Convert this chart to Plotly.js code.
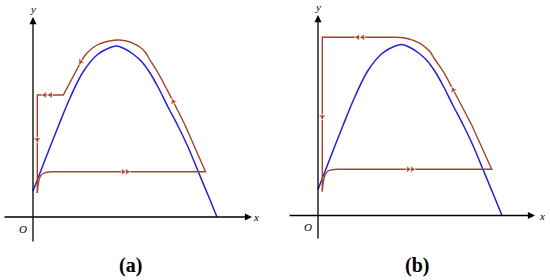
<!DOCTYPE html>
<html>
<head>
<meta charset="utf-8">
<script src="https://cdn.plot.ly/plotly-3.0.1.min.js"></script>
<style>
  html, body { margin: 0; padding: 0; background: #fff; }
  #plot { width: 550px; height: 280px; }
</style>
</head>
<body>
<div id="plot"></div>
<script>
// Nullcline (blue), same curve in both panels
const nullX = [0, 12, 25, 37, 50, 64, 76, 84, 92, 100, 109, 117, 125, 135, 145, 155, 165, 175, 184];
const nullY = [26, 57, 90, 119, 145, 162, 169, 171, 168, 163, 155, 144, 130, 110, 91, 70, 46, 22, 0];

// Trajectory, panel (a): curved pieces and straight pieces
const hookAX = [4.3, 5, 6, 7.5, 10, 14, 20];
const hookAY = [24, 31, 37, 41, 43.5, 44.8, 45.3];
const arcAX = [152, 140.3, 125.3, 117, 112.5, 107.5, 100.3, 92, 84, 74, 64, 54, 48];
const arcAY = [92, 115.3, 143.7, 157, 164.5, 169.5, 173.7, 176.3, 177, 175.5, 172, 164, 155.3];
const legAX = [20, 172.5, 152];
const legAY = [45.3, 45.3, 92];
const stepAX = [48, 30.3, 4.3, 4.3];
const stepAY = [155.3, 122, 122, 24];

// Trajectory, panel (b)
const hookBX = [4.3, 5, 6, 7.5, 10, 14, 20];
const hookBY = [24, 31, 37, 41.5, 44.5, 45.8, 46.2];
const arcBX = [153.7, 135.3, 125.3, 117, 112, 107, 102, 97, 92, 85.3, 78];
const arcBY = [90.5, 125.5, 143.8, 156, 163.8, 168.5, 172.2, 174.5, 176.2, 177.8, 178.2];
const legBX = [20, 173.7, 153.7];
const legBY = [46.2, 46.2, 90.5];
const stepBX = [78, 4.3, 4.3];
const stepBY = [178.2, 178.2, 24];

// Direction arrows: [fromX, fromY, atX, atY]
const arrowsA = [
    [80, 45.3, 90, 45.3], [84, 45.3, 94, 45.3],
    [152, 92, 140.3, 115.3],
    [54, 164, 47.7, 155.3],
    [28, 122, 17.7, 122], [22, 122, 12, 122],
    [4.3, 100, 4.3, 77.7]
];
const arrowsB = [
    [80, 46.2, 90, 46.2], [84, 46.2, 94, 46.2],
    [153.7, 90.5, 135.3, 125.5],
    [55, 178.2, 45, 178.2], [50, 178.2, 40, 178.2],
    [4.3, 130, 4.3, 99]
];

const BLUE = '#2a1fd0';
const ORBIT = '#a3452a';
const HEAD = '#b8361c';

function curve(x, y, color, width, xa, ya, smooth) {
    return {
        type: 'scatter', mode: 'lines', x: x, y: y,
        xaxis: xa, yaxis: ya, hoverinfo: 'skip',
        line: { color: color, width: width, shape: smooth ? 'spline' : 'linear', smoothing: 1 }
    };
}

function arrowTraces(list, xa, ya) {
    return list.map(a => ({
        type: 'scatter', mode: 'markers',
        x: [a[0], a[2]], y: [a[1], a[3]],
        xaxis: xa, yaxis: ya, hoverinfo: 'skip',
        marker: { symbol: 'triangle-up', size: [0, 7], color: HEAD, angleref: 'previous' }
    }));
}

// axis arrow from tail to head
function axisArrow(xr, yr, tx, ty, hx, hy) {
    return {
        xref: xr, yref: yr, axref: xr, ayref: yr,
        x: hx, y: hy, ax: tx, ay: ty, text: '',
        showarrow: true, arrowhead: 2, arrowsize: 1.1, arrowwidth: 1.3, arrowcolor: '#000'
    };
}

function label(xr, yr, x, y, text, size) {
    return {
        xref: xr, yref: yr, x: x, y: y, text: text, showarrow: false,
        xanchor: 'center', yanchor: 'middle',
        font: { family: 'Liberation Serif', size: size, color: '#000' }
    };
}

const data = [
    curve(nullX, nullY, BLUE, 1.5, 'x', 'y', true),
    curve(hookAX, hookAY, ORBIT, 1.4, 'x', 'y', true),
    curve(legAX, legAY, ORBIT, 1.4, 'x', 'y', false),
    curve(arcAX, arcAY, ORBIT, 1.4, 'x', 'y', true),
    curve(stepAX, stepAY, ORBIT, 1.4, 'x', 'y', false),
    curve(nullX, nullY, BLUE, 1.5, 'x2', 'y2', true),
    curve(hookBX, hookBY, ORBIT, 1.4, 'x2', 'y2', true),
    curve(legBX, legBY, ORBIT, 1.4, 'x2', 'y2', false),
    curve(arcBX, arcBY, ORBIT, 1.4, 'x2', 'y2', true),
    curve(stepBX, stepBY, ORBIT, 1.4, 'x2', 'y2', false)
].concat(arrowTraces(arrowsA, 'x', 'y'), arrowTraces(arrowsB, 'x2', 'y2'));

const hidden = { visible: false, showgrid: false, zeroline: false, fixedrange: true };

const layout = {
    width: 550, height: 280,
    margin: { l: 0, r: 0, t: 0, b: 0 },
    paper_bgcolor: '#fff', plot_bgcolor: '#fff',
    showlegend: false,
    xaxis: Object.assign({ domain: [0, 0.5], range: [-33, 242] }, hidden),
    yaxis: Object.assign({ domain: [0, 1], range: [-63, 217], anchor: 'x' }, hidden),
    xaxis2: Object.assign({ domain: [0.5, 1], range: [-43, 232], anchor: 'y2' }, hidden),
    yaxis2: Object.assign({ domain: [0, 1], range: [-64.5, 215.5], anchor: 'x2' }, hidden),
    annotations: [
        axisArrow('x', 'y', -30, 0, 219, 0),
        axisArrow('x', 'y', 0, -26, 0, 200),
        axisArrow('x2', 'y2', -30, 0, 217, 0),
        axisArrow('x2', 'y2', 0, -24.5, 0, 200.5),
        label('x', 'y', 223, 0, '<i>x</i>', 11),
        label('x', 'y', 0, 208, '<i>y</i>', 11),
        label('x', 'y', -10, -12, '<i>O</i>', 11),
        label('x', 'y', 97.7, -48, '<b>(a)</b>', 20),
        label('x2', 'y2', 223.7, 0, '<i>x</i>', 11),
        label('x2', 'y2', 0, 208.5, '<i>y</i>', 11),
        label('x2', 'y2', -9.7, -11.5, '<i>O</i>', 11),
        label('x2', 'y2', 98.7, -49.5, '<b>(b)</b>', 20)
    ]
};

Plotly.newPlot('plot', data, layout, { staticPlot: true, displayModeBar: false });
</script>
</body>
</html>
